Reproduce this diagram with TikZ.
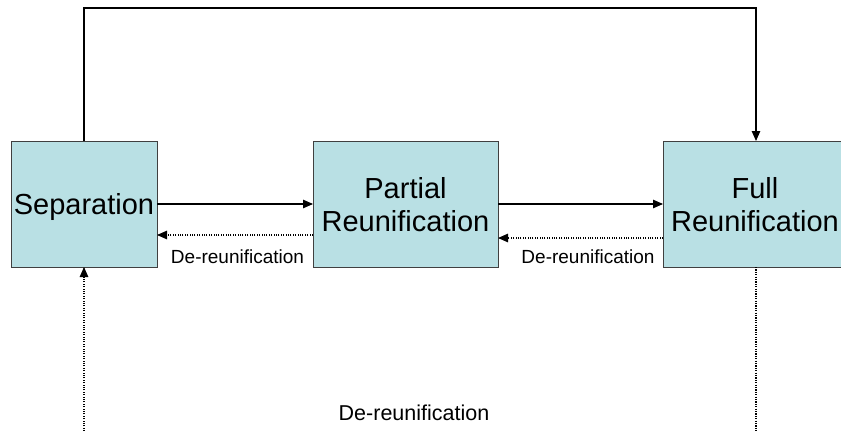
\documentclass[tikz,border=0pt]{standalone}
\usepackage{fontspec}
\setmainfont{Liberation Sans}
\usetikzlibrary{arrows.meta}
\definecolor{boxfill}{RGB}{185,224,228}
\definecolor{boxline}{RGB}{64,64,64}
\tikzset{
  statebox/.style={draw=boxline, line width=1pt, fill=boxfill, minimum height=126pt,
    inner sep=0pt, outer sep=0pt, align=center, text depth=0pt, font=\fontsize{29}{33}\selectfont},
  tip/.style={-{Triangle[length=10pt,width=8.5pt]}},
  solidarrow/.style={tip, line width=1.1pt, black},
  dotarrow/.style={tip, line width=1.1pt, black, dash pattern=on 1.1pt off 1.3pt},
  dotline/.style={line width=1.1pt, black, dash pattern=on 1.1pt off 1.3pt},
  smalllabel/.style={font=\fontsize{19}{22}\selectfont, inner sep=0pt},
  biglabel/.style={font=\fontsize{21.5}{24}\selectfont, inner sep=0pt}
}
\begin{document}
\begin{tikzpicture}[x=1pt,y=-1pt]
\useasboundingbox (0,0) rectangle (841,431);
\node[statebox, minimum width=146pt] (sep) at (84,204) {Separation};
\node[statebox, minimum width=185pt] (par) at (405.5,204) {Partial\\Reunification};
\node[statebox, minimum width=184pt] (full) at (755,204) {Full\\Reunification};
% forward arrows
\draw[solidarrow] (sep.east) -- (par.west);
\draw[solidarrow] (par.east) -- (full.west);
% backward dotted arrows
\draw[dotarrow] ([yshift=-31pt]par.west) -- ([yshift=-31pt]sep.east);
\draw[dotarrow] ([yshift=-34pt]full.west) -- ([yshift=-34pt]par.east);
\node[smalllabel] (l1) at (237.5,257) {De-reunification};
\node[smalllabel] (l2) at (588,257) {De-reunification};
% top loop
\coordinate (topL) at (84,8);
\coordinate (topR) at (756,8);
\draw[solidarrow] (sep.north) -- (topL) -- (topR) -- ([xshift=1pt]full.north);
% bottom dotted loop
\coordinate (botR) at (756,436);
\coordinate (botL) at (84,436);
\draw[dotline] ([xshift=1pt]full.south) -- (botR);
\draw[dotarrow] (botL) -- (sep.south);
\node[biglabel] (l3) at (414,413) {De-reunification};
\end{tikzpicture}
\end{document}
